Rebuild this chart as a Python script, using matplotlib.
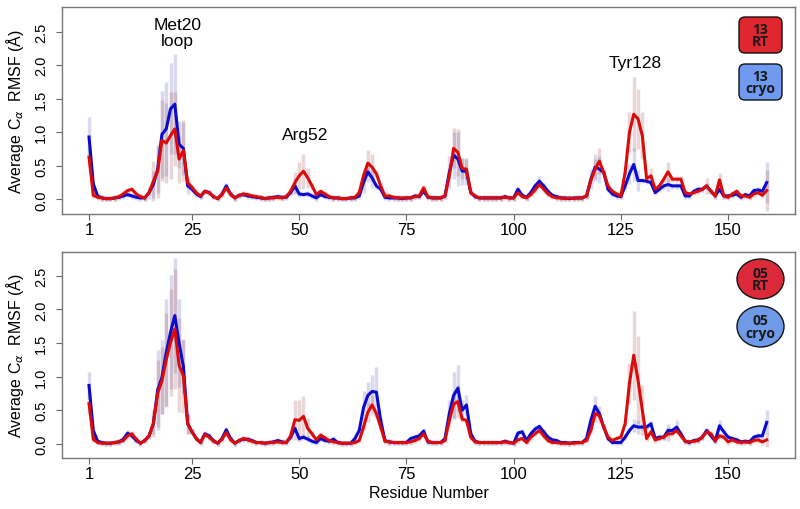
import numpy as np
import matplotlib
matplotlib.use("Agg")
import matplotlib.pyplot as plt
from matplotlib.patches import FancyBboxPatch, Ellipse

plt.rcParams['font.family'] = ['Liberation Sans', 'DejaVu Sans']

### residue numbers
residues = np.arange(1, 160)

### top panel (13): average C-alpha RMSF per residue
top_cryo = [
    0.93, 0.23, 0.05, 0.02, 0.01, 0.01, 0.02, 0.03, 0.05, 0.07,
    0.05, 0.03, 0.02, 0.02, 0.10, 0.22, 0.45, 0.97, 1.05, 1.35,
    1.42, 0.82, 0.76, 0.20, 0.15, 0.08, 0.04, 0.12, 0.10, 0.04,
    0.01, 0.08, 0.20, 0.08, 0.02, 0.06, 0.07, 0.05, 0.04, 0.03,
    0.02, 0.01, 0.02, 0.03, 0.04, 0.03, 0.03, 0.10, 0.20, 0.08,
    0.07, 0.08, 0.05, 0.02, 0.07, 0.04, 0.03, 0.02, 0.02, 0.01,
    0.01, 0.02, 0.02, 0.05, 0.25, 0.41, 0.32, 0.20, 0.15, 0.03,
    0.02, 0.02, 0.02, 0.01, 0.02, 0.02, 0.05, 0.04, 0.12, 0.03,
    0.02, 0.02, 0.02, 0.05, 0.40, 0.66, 0.60, 0.42, 0.42, 0.10,
    0.04, 0.02, 0.02, 0.02, 0.02, 0.02, 0.02, 0.04, 0.02, 0.02,
    0.15, 0.06, 0.03, 0.10, 0.20, 0.27, 0.20, 0.12, 0.06, 0.04,
    0.02, 0.02, 0.01, 0.02, 0.02, 0.02, 0.05, 0.30, 0.48, 0.45,
    0.40, 0.15, 0.08, 0.05, 0.04, 0.20, 0.38, 0.52, 0.28, 0.28,
    0.27, 0.25, 0.10, 0.15, 0.20, 0.22, 0.20, 0.20, 0.20, 0.05,
    0.05, 0.12, 0.15, 0.15, 0.20, 0.12, 0.05, 0.15, 0.05, 0.05,
    0.06, 0.08, 0.03, 0.07, 0.05, 0.13, 0.14, 0.12, 0.25,
]
top_rt = [
    0.63, 0.06, 0.03, 0.02, 0.01, 0.01, 0.02, 0.04, 0.08, 0.13,
    0.15, 0.08, 0.04, 0.02, 0.10, 0.27, 0.42, 0.88, 0.84, 0.95,
    1.05, 0.60, 0.73, 0.25, 0.18, 0.10, 0.05, 0.12, 0.10, 0.04,
    0.01, 0.07, 0.17, 0.07, 0.02, 0.06, 0.08, 0.07, 0.05, 0.04,
    0.03, 0.01, 0.02, 0.02, 0.03, 0.02, 0.04, 0.12, 0.25, 0.35,
    0.42, 0.32, 0.20, 0.07, 0.12, 0.08, 0.04, 0.02, 0.02, 0.01,
    0.01, 0.02, 0.03, 0.10, 0.35, 0.54, 0.48, 0.38, 0.20, 0.05,
    0.05, 0.03, 0.02, 0.02, 0.02, 0.02, 0.04, 0.05, 0.17, 0.04,
    0.02, 0.02, 0.02, 0.05, 0.35, 0.76, 0.70, 0.46, 0.45, 0.10,
    0.05, 0.02, 0.02, 0.02, 0.02, 0.02, 0.02, 0.03, 0.02, 0.02,
    0.10, 0.04, 0.02, 0.07, 0.14, 0.22, 0.15, 0.08, 0.04, 0.02,
    0.02, 0.01, 0.02, 0.01, 0.02, 0.02, 0.05, 0.28, 0.45, 0.57,
    0.40, 0.20, 0.12, 0.08, 0.05, 0.40, 1.00, 1.27, 1.20, 0.95,
    0.31, 0.35, 0.15, 0.20, 0.30, 0.41, 0.30, 0.30, 0.30, 0.10,
    0.08, 0.10, 0.12, 0.15, 0.20, 0.12, 0.05, 0.29, 0.05, 0.03,
    0.08, 0.12, 0.05, 0.05, 0.03, 0.08, 0.10, 0.06, 0.13,
]

### bottom panel (05)
bot_cryo = [
    0.87, 0.20, 0.04, 0.02, 0.01, 0.01, 0.02, 0.03, 0.07, 0.16,
    0.12, 0.05, 0.01, 0.05, 0.12, 0.30, 0.80, 0.99, 1.36, 1.66,
    1.91, 1.50, 1.15, 0.30, 0.18, 0.08, 0.02, 0.15, 0.12, 0.05,
    0.01, 0.08, 0.21, 0.08, 0.01, 0.05, 0.07, 0.07, 0.05, 0.02,
    0.02, 0.01, 0.02, 0.03, 0.05, 0.03, 0.02, 0.10, 0.23, 0.08,
    0.10, 0.07, 0.04, 0.02, 0.08, 0.05, 0.04, 0.07, 0.02, 0.01,
    0.01, 0.01, 0.08, 0.20, 0.54, 0.72, 0.78, 0.77, 0.35, 0.05,
    0.03, 0.02, 0.02, 0.02, 0.02, 0.08, 0.10, 0.12, 0.19, 0.03,
    0.02, 0.02, 0.02, 0.08, 0.45, 0.72, 0.83, 0.50, 0.58, 0.15,
    0.04, 0.02, 0.02, 0.02, 0.02, 0.02, 0.02, 0.04, 0.02, 0.01,
    0.16, 0.18, 0.05, 0.15, 0.22, 0.26, 0.18, 0.10, 0.06, 0.05,
    0.02, 0.02, 0.01, 0.02, 0.02, 0.02, 0.08, 0.35, 0.56, 0.45,
    0.25, 0.08, 0.02, 0.02, 0.02, 0.10, 0.20, 0.27, 0.25, 0.25,
    0.25, 0.30, 0.08, 0.10, 0.10, 0.20, 0.20, 0.25, 0.15, 0.04,
    0.02, 0.05, 0.06, 0.10, 0.20, 0.12, 0.04, 0.27, 0.18, 0.10,
    0.08, 0.06, 0.03, 0.04, 0.03, 0.10, 0.12, 0.12, 0.32,
]
bot_rt = [
    0.60, 0.07, 0.02, 0.01, 0.01, 0.01, 0.02, 0.03, 0.05, 0.12,
    0.15, 0.07, 0.01, 0.05, 0.12, 0.30, 0.75, 0.94, 1.25, 1.51,
    1.71, 1.17, 1.01, 0.30, 0.18, 0.08, 0.02, 0.14, 0.10, 0.04,
    0.01, 0.07, 0.17, 0.06, 0.01, 0.05, 0.08, 0.06, 0.04, 0.02,
    0.02, 0.01, 0.02, 0.02, 0.03, 0.02, 0.02, 0.12, 0.36, 0.35,
    0.41, 0.23, 0.15, 0.06, 0.13, 0.09, 0.05, 0.03, 0.02, 0.01,
    0.01, 0.01, 0.02, 0.05, 0.25, 0.47, 0.58, 0.45, 0.25, 0.04,
    0.03, 0.02, 0.02, 0.02, 0.02, 0.03, 0.05, 0.08, 0.15, 0.04,
    0.02, 0.02, 0.02, 0.05, 0.35, 0.59, 0.63, 0.37, 0.35, 0.10,
    0.03, 0.02, 0.02, 0.02, 0.02, 0.02, 0.02, 0.03, 0.02, 0.01,
    0.06, 0.08, 0.02, 0.10, 0.15, 0.20, 0.12, 0.05, 0.02, 0.02,
    0.01, 0.01, 0.01, 0.01, 0.02, 0.02, 0.05, 0.20, 0.45, 0.42,
    0.25, 0.10, 0.05, 0.08, 0.10, 0.30, 0.90, 1.32, 0.95, 0.50,
    0.08, 0.18, 0.06, 0.08, 0.10, 0.15, 0.15, 0.20, 0.12, 0.04,
    0.03, 0.04, 0.05, 0.10, 0.18, 0.15, 0.05, 0.12, 0.10, 0.03,
    0.06, 0.03, 0.02, 0.03, 0.02, 0.05, 0.06, 0.03, 0.06,
]

### standard deviations (error bars) where they are visibly larger than baseline
BASE_SD = 0.04
top_cryo_sd_res = [1, 15, 16, 17, 18, 19, 20, 21, 22, 23, 24, 49, 65, 66, 67, 85, 86, 87, 88, 89, 106, 118, 119, 120, 127, 128, 129, 136, 159]
top_cryo_sd = [0.30, 0.10, 0.20, 0.35, 0.65, 0.70, 0.68, 0.75, 0.35, 0.40, 0.12, 0.12, 0.15, 0.15, 0.15, 0.25, 0.35, 0.40, 0.20, 0.20, 0.07, 0.15, 0.20, 0.20, 0.15, 0.25, 0.15, 0.10, 0.30]
top_rt_sd_res = [1, 16, 17, 18, 19, 20, 21, 22, 23, 49, 50, 51, 52, 66, 67, 86, 87, 88, 89, 119, 120, 127, 128, 129, 130, 132, 136, 145, 148, 159]
top_rt_sd = [0.15, 0.30, 0.40, 0.60, 0.60, 0.65, 0.55, 0.35, 0.45, 0.15, 0.20, 0.26, 0.15, 0.20, 0.20, 0.30, 0.35, 0.15, 0.15, 0.15, 0.20, 0.30, 0.55, 0.45, 0.35, 0.12, 0.15, 0.12, 0.10, 0.30]
bot_cryo_sd_res = [1, 16, 17, 18, 19, 20, 21, 22, 23, 24, 65, 66, 67, 68, 85, 86, 87, 88, 89, 119, 120, 128, 129, 136, 138, 148, 159]
bot_cryo_sd = [0.20, 0.15, 0.60, 0.55, 0.80, 0.85, 0.85, 0.65, 0.40, 0.15, 0.25, 0.20, 0.25, 0.37, 0.20, 0.35, 0.35, 0.15, 0.15, 0.15, 0.12, 0.10, 0.10, 0.10, 0.10, 0.08, 0.18]
bot_rt_sd_res = [1, 16, 17, 18, 19, 20, 21, 22, 23, 24, 49, 50, 51, 52, 66, 67, 86, 87, 119, 127, 128, 129, 130, 136, 159]
bot_rt_sd = [0.15, 0.20, 0.50, 0.50, 0.70, 0.80, 0.90, 0.70, 0.55, 0.15, 0.30, 0.30, 0.30, 0.15, 0.15, 0.15, 0.20, 0.25, 0.12, 0.30, 0.66, 0.65, 0.37, 0.10, 0.10]

xtick_vals = [1, 25, 50, 75, 100, 125, 150]
ytick_vals = [0.0, 0.5, 1.0, 1.5, 2.0, 2.5]

CRYO_LINE = "#0a0ad0"
RT_LINE = "#dd0a0a"
CRYO_BAR = "#7878c8"
RT_BAR = "#a86060"


def sd_array(res_list, sd_list):
    sd = np.full(len(residues), BASE_SD)
    for r, s in zip(res_list, sd_list):
        sd[r - 1] = s
    return sd


def draw_panel(ax, cryo, rt, cryo_sd, rt_sd, ylim):
    cryo = np.array(cryo)
    rt = np.array(rt)
    ax.vlines(residues, cryo - cryo_sd, cryo + cryo_sd, colors=CRYO_BAR, alpha=0.28, lw=2.5, zorder=1)
    ax.vlines(residues, rt - rt_sd, rt + rt_sd, colors=RT_BAR, alpha=0.25, lw=2.5, zorder=1)
    ax.plot(residues, cryo, color=CRYO_LINE, lw=2.2, zorder=3)
    ax.plot(residues, rt, color=RT_LINE, lw=2.2, zorder=4)
    ax.set_xlim(-5.3, 165.6)
    ax.set_ylim(*ylim)
    ax.set_xticks(xtick_vals)
    ax.set_xticklabels([str(v) for v in xtick_vals], fontsize=12)
    ax.set_yticks(ytick_vals)
    ax.set_yticklabels([f"{v:.1f}" for v in ytick_vals], rotation=90, va='center', fontsize=10.5)
    ax.tick_params(axis='x', length=4, color='#666666', pad=2)
    ax.tick_params(axis='y', length=4, color='#666666', pad=6)
    for sp in ax.spines.values():
        sp.set_color('#777777')
        sp.set_linewidth(1.0)
    ax.set_ylabel(r"Average C$_\alpha$  RMSF (Å)", fontsize=11.5, va='center')
    ax.yaxis.set_label_coords(-0.064, 0.5)


fig = plt.figure(figsize=(8, 5.1), dpi=100)
ax1 = fig.add_axes([0.0775, 0.5784, 0.91625, 0.4059])
ax2 = fig.add_axes([0.0775, 0.1, 0.91625, 0.4045])

draw_panel(ax1, top_cryo, top_rt, sd_array(top_cryo_sd_res, top_cryo_sd), sd_array(top_rt_sd_res, top_rt_sd), (-0.22, 2.87))
draw_panel(ax2, bot_cryo, bot_rt, sd_array(bot_cryo_sd_res, bot_cryo_sd), sd_array(bot_rt_sd_res, bot_rt_sd), (-0.21, 2.86))

ax1.text(21.7, 2.49, "Met20\nloop", ha='center', va='center', fontsize=12.5, linespacing=1.1)
ax1.text(51.4, 0.97, "Arg52", ha='center', va='center', fontsize=12.5)
ax1.text(128.3, 2.04, "Tyr128", ha='center', va='center', fontsize=12.5)

ax2.set_xlabel("Residue Number", fontsize=11.5, labelpad=3)

### legend badges (inches, so the rounding stays round)
tr = fig.dpi_scale_trans
badge_font = dict(family=['Open Sans', 'DejaVu Sans'], weight='bold', fontsize=10,
                  color='#1a1a1a', ha='center', va='center', linespacing=0.9)
fig.add_artist(FancyBboxPatch((7.39, 4.56), 0.43, 0.36, boxstyle="round,pad=0,rounding_size=0.06",
                              fc='#e0262e', ec='#111111', lw=1.0, transform=tr))
fig.add_artist(FancyBboxPatch((7.39, 4.09), 0.43, 0.36, boxstyle="round,pad=0,rounding_size=0.06",
                              fc='#6f9aef', ec='#111111', lw=1.0, transform=tr))
fig.text(7.605, 4.74, "13\nRT", transform=tr, **badge_font)
fig.text(7.605, 4.27, "13\ncryo", transform=tr, **badge_font)

fig.add_artist(Ellipse((7.605, 2.30), 0.47, 0.40, fc='#dc2a3b', ec='#111111', lw=1.0, transform=tr))
fig.add_artist(Ellipse((7.605, 1.825), 0.47, 0.41, fc='#6f9ae8', ec='#111111', lw=1.0, transform=tr))
fig.text(7.605, 2.30, "05\nRT", transform=tr, **badge_font)
fig.text(7.605, 1.825, "05\ncryo", transform=tr, **badge_font)

fig.savefig("out.png", dpi=100)
plt.close(fig)
